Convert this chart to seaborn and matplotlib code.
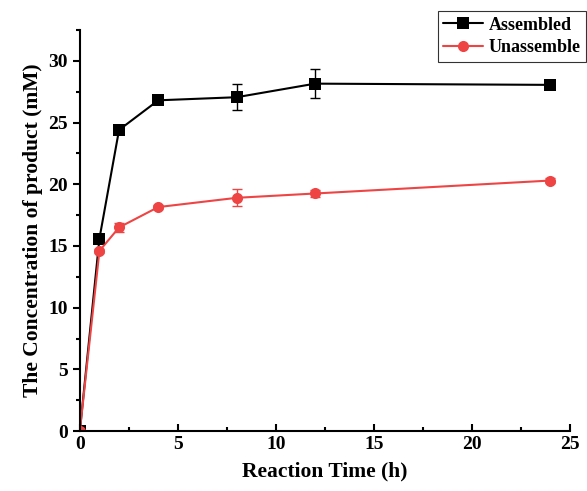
import matplotlib
matplotlib.use("Agg")
import matplotlib.pyplot as plt
import seaborn as sns
import pandas as pd
from matplotlib.ticker import MultipleLocator

time_h = [0, 1, 2, 4, 8, 12, 24]
assembled = [0, 15.6, 24.4, 26.8, 27.05, 28.15, 28.05]
assembled_err = [0, 0.4, 0.15, 0.2, 1.05, 1.2, 0.3]
unassembled = [0, 14.6, 16.5, 18.15, 18.9, 19.25, 20.3]
unassembled_err = [0, 0.15, 0.35, 0.15, 0.7, 0.3, 0.2]
labels = ["Assembled", "Unassemble"]

sns.set_style("ticks", {"axes.edgecolor": "black", "text.color": "black",
                        "xtick.color": "black", "ytick.color": "black",
                        "axes.labelcolor": "black"})
plt.rcParams['font.family'] = ['Liberation Serif', 'DejaVu Serif']
plt.rcParams['font.weight'] = 'bold'

df = pd.DataFrame({
    "t": time_h * 2,
    "c": assembled + unassembled,
    "s": [labels[0]] * len(time_h) + [labels[1]] * len(time_h),
})

fig = plt.figure(figsize=(5.87, 4.91), dpi=100)
ax = fig.add_axes([0.136, 0.122, 0.835, 0.817])

colors = {labels[0]: "black", labels[1]: "#ee4444"}
sns.lineplot(data=df, x="t", y="c", hue="s", style="s", palette=colors,
             markers={labels[0]: "s", labels[1]: "o"}, dashes=False,
             markersize=8, linewidth=1.5, markeredgewidth=0, ax=ax)
ax.errorbar(time_h, assembled, yerr=assembled_err, fmt="none", ecolor="black",
            elinewidth=1, capsize=3.5, capthick=1)
ax.errorbar(time_h, unassembled, yerr=unassembled_err, fmt="none", ecolor="#ee4444",
            elinewidth=1, capsize=3.5, capthick=1)

ax.set_xlim(0, 25)
ax.set_ylim(0, 32.5)
ax.xaxis.set_major_locator(MultipleLocator(5))
ax.xaxis.set_minor_locator(MultipleLocator(2.5))
ax.yaxis.set_major_locator(MultipleLocator(5))
ax.yaxis.set_minor_locator(MultipleLocator(2.5))
ax.tick_params(axis="x", which="both", direction="in")
ax.tick_params(axis="y", which="both", direction="out")
ax.tick_params(which="major", length=5, width=1.5, labelsize=14, colors="black")
ax.tick_params(which="minor", length=3, width=1.5, colors="black")
for lab in ax.get_xticklabels() + ax.get_yticklabels():
    lab.set_fontweight("bold")
for sp in ["left", "bottom"]:
    ax.spines[sp].set_linewidth(1.5)
    ax.spines[sp].set_color("black")
sns.despine(ax=ax)

ax.set_xlabel("Reaction Time (h)", fontsize=15.5, fontweight="bold", labelpad=6, color="black")
ax.set_ylabel("The Concentration of product (mM)", fontsize=15.5, fontweight="bold", labelpad=4, color="black")

leg = ax.legend(loc="upper right", bbox_to_anchor=(0.998, 0.977), bbox_transform=fig.transFigure,
                frameon=True, fancybox=False, fontsize=13, borderpad=0.3,
                handlelength=2.2, handletextpad=0.3, labelspacing=0.3, borderaxespad=0)
leg.get_frame().set_edgecolor("black")
leg.get_frame().set_linewidth(0.8)
for t in leg.get_texts():
    t.set_fontweight("bold")
    t.set_color("black")

fig.savefig("out.png", dpi=100)
